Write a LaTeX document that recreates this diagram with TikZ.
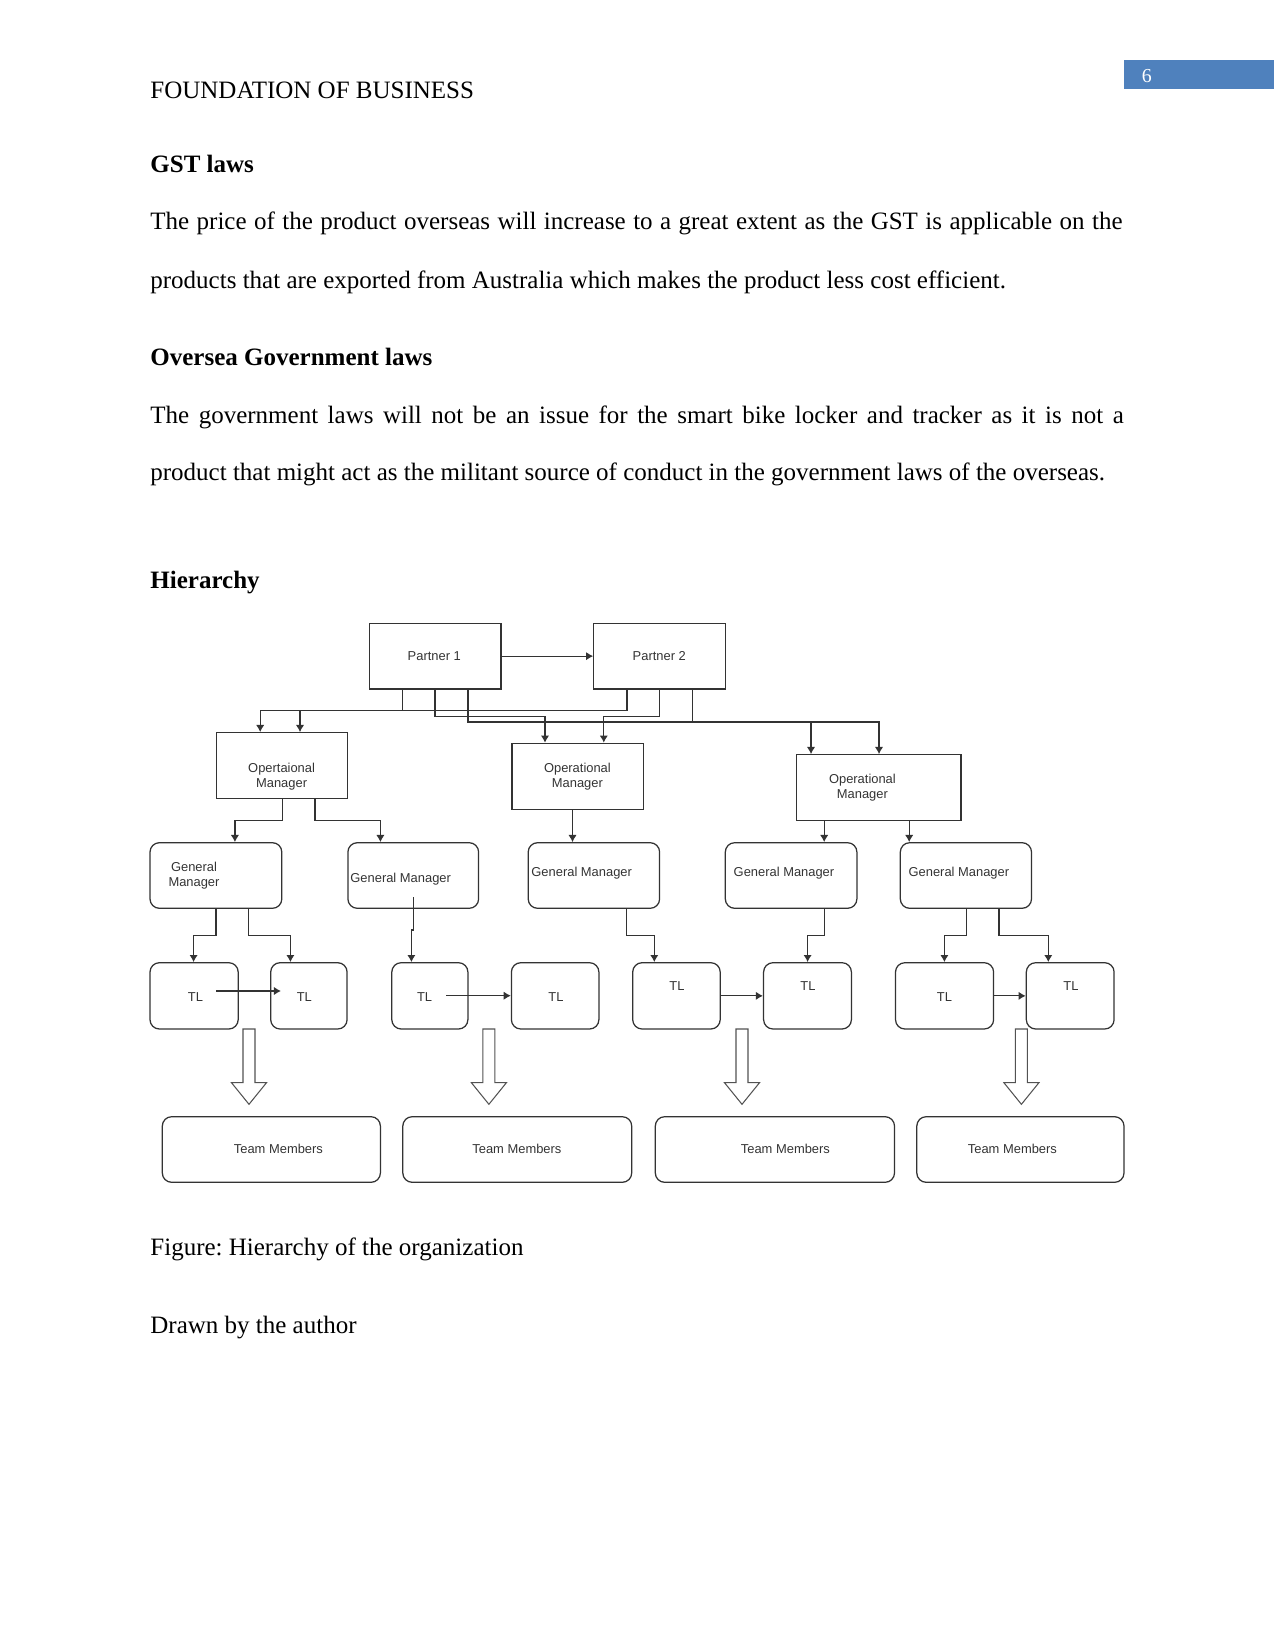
\documentclass[tikz,border=0pt]{standalone}
\usepackage{fontspec}
\setmainfont{Liberation Serif}
\newfontfamily\dfont{Liberation Sans}
\usetikzlibrary{arrows.meta,fit}
\definecolor{ln}{HTML}{333333}
\definecolor{wordblue}{HTML}{4F81BD}
\frenchspacing
\newcommand\blockarrow[1]{%
  \draw[blk] ({#1-6},1029) -- ({#1-6},1082.7) -- ({#1-17.5},1082.7) -- (#1,1104.3)
    -- ({#1+17.5},1082.7) -- ({#1+6},1082.7) -- ({#1+6},1029) -- cycle;}
\begin{document}
\begin{tikzpicture}[x=0.48pt,y=-0.48pt,
  txt/.style={anchor=base west,inner sep=0pt,font=\fontsize{12pt}{14pt}\selectfont},
  boldtxt/.style={anchor=base west,inner sep=0pt,font=\fontsize{12pt}{14pt}\selectfont\bfseries},
  sqbox/.style={draw=ln,line width=0.6pt,inner sep=0pt},
  rbox/.style={sqbox,rounded corners=4.5pt},
  lab/.style={inner sep=0pt,font=\dfont\fontsize{6.2pt}{7.2pt}\selectfont,text=ln,align=center},
  labw/.style={lab,anchor=west},
  conn/.style={draw=ln,line width=0.6pt,-{Latex[length=3.4pt,width=4pt]}},
  blk/.style={draw=ln!85,line width=0.5pt,fill=white}
]
\useasboundingbox (0,0) rectangle (1275,1650);

% ---------- page text ----------
\node[txt] (hdr) at (150,98.3) {FOUNDATION OF BUSINESS};
\fill[wordblue] (1124.3,60) rectangle (1274,89);
\node[anchor=base,inner sep=0pt,text=white,font=\fontsize{9.5pt}{11pt}\selectfont] (pg) at (1146.7,82.7) {6};

\node[boldtxt] (h1) at (150,172.3) {GST laws};
\node[txt] (l1) at (150,230) {\makebox[466.6pt][s]{The price of the product overseas will increase to a great extent as the GST is applicable on the}};
\node[txt] (l2) at (150,288.3) {products that are exported from Australia which makes the product less cost efficient.};
\node[boldtxt] (h2) at (150,366) {Oversea Government laws};
\node[txt] (l3) at (150,423.3) {\makebox[467.2pt][s]{The government laws will not be an issue for the smart bike locker and tracker as it is not a}};
\node[txt] (l4) at (150,480) {product that might act as the militant source of conduct in the government laws of the overseas.};
\node[boldtxt] (h3) at (150,588.3) {Hierarchy};
\node[txt] (cap) at (150,1255) {Figure: Hierarchy of the organization};
\node[txt] (src) at (150,1333.3) {Drawn by the author};

% ---------- boxes ----------
\node[sqbox,fit={(369.2,623.3) (500.9,689)}] (p1) {};
\node[sqbox,fit={(593.8,623.3) (725.5,689)}] (p2) {};
\node[sqbox,fit={(216.2,732.7) (347.8,798.7)}] (om1) {};
\node[sqbox,fit={(512,743.3) (643.3,809.3)}] (om2) {};
\node[sqbox,fit={(796.3,754.7) (960.9,820.7)}] (om3) {};

\node[rbox,fit={(150,842.7) (281.8,908.3)}] (gm1) {};
\node[rbox,fit={(347.9,842.7) (478.6,908.3)}] (gm2) {};
\node[rbox,fit={(528.2,842.7) (659.6,908.3)}] (gm3) {};
\node[rbox,fit={(725.3,842.7) (856.9,908.3)}] (gm4) {};
\node[rbox,fit={(900.3,842.7) (1031.5,908.3)}] (gm5) {};

\node[rbox,fit={(150,962.7) (238.2,1029)}] (tl1) {};
\node[rbox,fit={(270.7,962.7) (347.1,1029)}] (tl2) {};
\node[rbox,fit={(391.8,962.7) (467.9,1029)}] (tl3) {};
\node[rbox,fit={(511.4,962.7) (598.9,1029)}] (tl4) {};
\node[rbox,fit={(632.7,962.7) (720.2,1029)}] (tl5) {};
\node[rbox,fit={(763.6,962.7) (851.4,1029)}] (tl6) {};
\node[rbox,fit={(895.5,962.7) (993.6,1029)}] (tl7) {};
\node[rbox,fit={(1026.3,962.7) (1114.1,1029)}] (tl8) {};

\node[rbox,fit={(162.3,1116.7) (380.4,1182.3)}] (tm1) {};
\node[rbox,fit={(402.8,1116.7) (631.7,1182.3)}] (tm2) {};
\node[rbox,fit={(655.3,1116.7) (894.5,1182.3)}] (tm3) {};
\node[rbox,fit={(916.8,1116.7) (1124,1182.3)}] (tm4) {};

% ---------- labels ----------
\node[lab] (p1t) at (434.3,656) {Partner 1};
\node[lab] (p2t) at (659.3,656) {Partner 2};
\node[lab] (om1t) at (281.6,776.8) {Opertaional\\Manager};
\node[lab] (om2t) at (577.4,776.8) {Operational\\Manager};
\node[lab] (om3t) at (862.4,788) {Operational\\Manager};
\node[lab] (gm1t) at (194,875.8) {General\\Manager};
\node[labw] (gm2t) at (350,879.3) {General Manager};
\node[labw] (gm3t) at (531,873.3) {General Manager};
\node[labw] (gm4t) at (733.3,873.3) {General Manager};
\node[labw] (gm5t) at (908.2,873.3) {General Manager};
\node[lab] (tl1t) at (195.4,996.7) {TL};
\node[lab] (tl2t) at (304.3,996.7) {TL};
\node[lab] (tl3t) at (424.6,996.7) {TL};
\node[lab] (tl4t) at (556,996.7) {TL};
\node[lab] (tl5t) at (677,985.7) {TL};
\node[lab] (tl6t) at (808,985.7) {TL};
\node[lab] (tl7t) at (944.4,996.7) {TL};
\node[lab] (tl8t) at (1071,985.7) {TL};
\node[lab] (tm1t) at (278.4,1149.3) {Team Members};
\node[lab] (tm2t) at (516.9,1149.3) {Team Members};
\node[lab] (tm3t) at (785.4,1149.3) {Team Members};
\node[lab] (tm4t) at (1012.4,1149.3) {Team Members};

% ---------- connectors ----------
\draw[conn] (p1.east) -- (p2.west);
\draw[conn] (p1.south -| 402.5,0) |- (260.2,710.7) -- (om1.north -| 260.2,0);
\draw[conn] (p2.south -| 627,0) |- (300,710.7) -- (om1.north -| 300,0);
\draw[conn] (p1.south -| 435,0) |- (545,716.7) -- (om2.north -| 545,0);
\draw[conn] (p2.south -| 659.7,0) |- (603.8,716.7) -- (om2.north -| 603.8,0);
\draw[conn] (p1.south -| 468,0) |- (879,722) -- (om3.north -| 879,0);
\draw[conn] (p2.south -| 692.6,0) |- (811,722) -- (om3.north -| 811,0);

\draw[conn] (om1.south -| 282.4,0) |- (234.9,820.7) -- (gm1.north -| 234.9,0);
\draw[conn] (om1.south -| 314.9,0) |- (380.4,820.7) -- (gm2.north -| 380.4,0);
\draw[conn] (om2.south -| 572.5,0) -- (gm3.north -| 572.5,0);
\draw[conn] (om3.south -| 824.2,0) -- (gm4.north -| 824.2,0);
\draw[conn] (om3.south -| 909.2,0) -- (gm5.north -| 909.2,0);

\coordinate (gm2s) at (413.6,897.3);
\draw[conn] (gm1.south -| 216,0) |- (193.6,935.7) -- (tl1.north -| 193.6,0);
\draw[conn] (gm1.south -| 248.2,0) |- (290.4,935.7) -- (tl2.north -| 290.4,0);
\draw[conn] (gm2s) -- (413.6,930) -- (411.4,930) -- (tl3.north -| 411.4,0);
\draw[conn] (gm3.south -| 626.8,0) |- (654.3,935.7) -- (tl5.north -| 654.3,0);
\draw[conn] (gm4.south -| 824.2,0) |- (807.6,935.7) -- (tl6.north -| 807.6,0);
\draw[conn] (gm5.south -| 966.4,0) |- (944.4,935.7) -- (tl7.north -| 944.4,0);
\draw[conn] (gm5.south -| 999.1,0) |- (1048.3,935.7) -- (tl8.north -| 1048.3,0);

\coordinate (tl1a) at (216,991);
\coordinate (tl2a) at (281,991);
\coordinate (tl3a) at (446.4,995.7);
\draw[conn] (tl1a) -- (tl2a);
\draw[conn] (tl3a) -- (tl4.west |- tl3a);
\draw[conn] (tl5.east) -- (tl6.west);
\draw[conn] (tl7.east) -- (tl8.west);

% ---------- block arrows ----------
\blockarrow{249}
\blockarrow{488.9}
\blockarrow{742}
\blockarrow{1021.4}
\end{tikzpicture}
\end{document}
